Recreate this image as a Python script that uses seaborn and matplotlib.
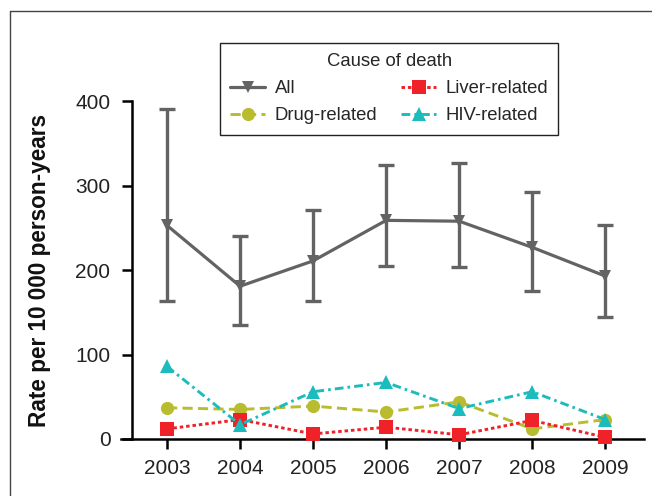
import numpy as np
import pandas as pd
import matplotlib
matplotlib.use('Agg')
import matplotlib.pyplot as plt
from matplotlib.lines import Line2D
import seaborn as sns

years = [2003, 2004, 2005, 2006, 2007, 2008, 2009]
all_rate = [253, 181, 211, 259, 258, 227, 193]
all_lo = [163, 135, 163, 205, 204, 175, 145]
all_hi = [391, 240, 271, 325, 327, 292, 254]
liver = [12, 23, 6, 14, 5, 22, 2]
drug = [37, 35, 39, 32, 44, 12, 23]
hiv = [86, 17, 56, 67, 36, 56, 23]

causes = ['All', 'Drug-related', 'Liver-related', 'HIV-related']
colors = {'All': '#636363', 'Liver-related': '#ee2228',
          'Drug-related': '#b9bc2e', 'HIV-related': '#1cbcbd'}
markers = {'All': 'v', 'Liver-related': 's', 'Drug-related': 'o', 'HIV-related': '^'}
dashes = {'All': '', 'Liver-related': (1.2, 1.0),
          'Drug-related': (3.5, 1.8), 'HIV-related': (3.0, 1.4, 0.9, 1.4)}

df = pd.concat([
    pd.DataFrame({'Year': years, 'Rate': all_rate, 'Cause': 'All'}),
    pd.DataFrame({'Year': years, 'Rate': drug, 'Cause': 'Drug-related'}),
    pd.DataFrame({'Year': years, 'Rate': liver, 'Cause': 'Liver-related'}),
    pd.DataFrame({'Year': years, 'Rate': hiv, 'Cause': 'HIV-related'}),
])

sns.set_style('ticks')
plt.rcParams['font.family'] = ['Liberation Sans', 'DejaVu Sans']

fig = plt.figure(figsize=(6.52, 4.96), dpi=100)
ax = fig.add_axes([121/652, 1 - 439/496, 523/652, 363/496])

# error bars for all-cause rate
yerr = [np.array(all_rate) - np.array(all_lo), np.array(all_hi) - np.array(all_rate)]
ax.errorbar(years, all_rate, yerr=yerr, fmt='none', ecolor=colors['All'],
            elinewidth=2.4, capsize=6, capthick=2.4, zorder=2)

for c in ['All', 'Drug-related', 'Liver-related', 'HIV-related']:
    sub = df[df['Cause'] == c]
    ms = 8.5 if c == 'All' else 9.5
    lw = 2.3 if c == 'All' else 2.1
    sns.lineplot(data=sub, x='Year', y='Rate', ax=ax, color=colors[c],
                 marker=markers[c], markersize=ms, markeredgewidth=0,
                 linewidth=lw, dashes=False, label=c, clip_on=False, zorder=3)
    line = ax.get_lines()[-1]
    if dashes[c]:
        line.set_dashes(dashes[c])

ax.set_xlim(2002.37, 2009.53)
ax.set_ylim(0, 430)
ax.set_xticks(years)
ax.set_yticks([0, 100, 200, 300, 400])
ax.spines['left'].set_position(('data', 2002.52))
ax.spines['left'].set_bounds(0, 400)
for s in ['left', 'bottom']:
    ax.spines[s].set_linewidth(1.8)
    ax.spines[s].set_color('black')
sns.despine(ax=ax)
ax.tick_params(axis='both', labelsize=15, width=1.8, length=7.5, color='black',
               labelcolor='#222222')
ax.tick_params(axis='y', pad=8)
ax.tick_params(axis='x', pad=7)
ax.set_xlabel('')
ax.set_ylabel('Rate per 10 000 person-years', fontsize=16.3, fontweight='bold',
              color='#111111')
ax.yaxis.set_label_coords(-0.134, 200/430)

handles, labels = ax.get_legend_handles_labels()
order = [labels.index(c) for c in causes]
leg = ax.legend([handles[i] for i in order], [labels[i] for i in order],
                title='Cause of death', ncol=2, loc='upper left',
                bbox_to_anchor=(220/652, 1 - 43/496), bbox_transform=fig.transFigure,
                borderaxespad=0,
                fontsize=13.3, title_fontsize=13.3, frameon=True, fancybox=False,
                handlelength=1.9, columnspacing=1.3, handletextpad=0.5,
                borderpad=0.55, labelspacing=0.55)
leg.get_frame().set_edgecolor('#222222')
leg.get_frame().set_linewidth(1.0)
leg.get_frame().set_alpha(1)

# outer frame (top and left edges)
fig.add_artist(Line2D([10/652, 1], [1 - 11/496, 1 - 11/496], transform=fig.transFigure,
                      color='#444444', linewidth=1.0))
fig.add_artist(Line2D([10/652, 10/652], [0, 1 - 11/496], transform=fig.transFigure,
                      color='#444444', linewidth=1.0))

fig.savefig('out.png', dpi=100)
